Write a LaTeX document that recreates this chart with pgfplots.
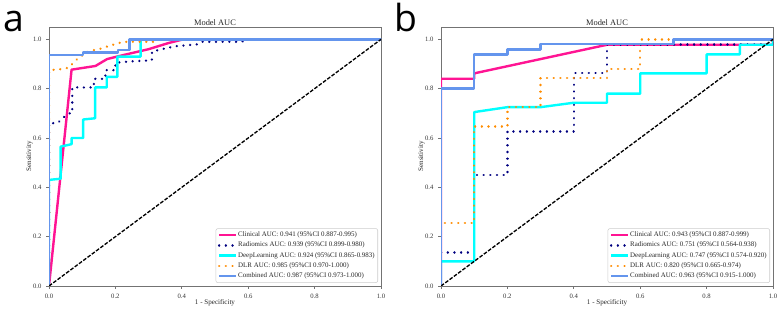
\documentclass[border=0pt]{standalone}
\usepackage{pgfplots}
\pgfplotsset{compat=1.18}
\usepackage{fontspec}
\setmainfont{Liberation Serif}
\newfontfamily\letterfont{Open Sans}
\definecolor{cPink}{HTML}{FF1493}
\definecolor{cNavy}{HTML}{000080}
\definecolor{cCyan}{HTML}{00FFFF}
\definecolor{cOrange}{HTML}{FF8C00}
\definecolor{cBlue}{HTML}{6495ED}
\pgfplotsset{
  legend image code/.code={\draw[#1] (0pt,0pt) -- (12.5pt,0pt);},
  rocaxis/.style={
    scale only axis, width=249pt, height=194.25pt,
    xmin=0, xmax=1, ymin=0, ymax=1.05,
    xtick={0,0.2,0.4,0.6,0.8,1}, ytick={0,0.2,0.4,0.6,0.8,1},
    xtick pos=lower, ytick pos=left,
    tick align=outside, major tick length=2.2pt,
    axis line style={black!55, line width=0.5pt},
    tick style={black!55, line width=0.5pt},
    ticklabel style={font=\fontsize{5}{6}\selectfont, text=black!80},
    /pgf/number format/fixed, /pgf/number format/fixed zerofill,
    /pgf/number format/precision=1, /pgf/number format/assume math mode=true,
    legend cell align=left,
    legend style={at={(axis description cs:0.991,0.012)}, anchor=south east,
      draw=black!20, rounded corners=1.5pt, fill=white,
      font=\fontsize{5.2}{6}\selectfont, text=black!85,
      inner sep=1.5pt, row sep=1pt, nodes={inner sep=0.8pt}},
  },
  solidroc/.style={line width=1.8pt, line join=round},
  dotroc/.style={line width=1.9pt, line cap=round, dash pattern=on 0.01pt off 5pt},
  diag/.style={black, line width=1pt, dash pattern=on 2.8pt off 1.2pt, forget plot},
}
\tikzset{
  lbl/.style={font=\fontsize{5.3}{6}\selectfont, text=black!85, inner sep=0pt},
  ttl/.style={font=\fontsize{6.3}{7}\selectfont, text=black!85, inner sep=0pt},
}
\begin{document}
\begin{tikzpicture}
\useasboundingbox (0,0) rectangle (585pt,231.75pt);
\node[anchor=base west, font=\letterfont\fontsize{28}{30}\selectfont, inner sep=0pt] at (2.25pt,207.75pt) {a};
\node[anchor=base west, font=\letterfont\fontsize{28}{30}\selectfont, inner sep=0pt] at (296pt,207.75pt) {b};

\node[ttl] at (161.25pt,214.9pt) {Model AUC};
\node[ttl] at (455.25pt,214.9pt) {Model AUC};
\node[lbl] at (161.25pt,4.6pt) {1 - Specificity};
\node[lbl] at (455.25pt,4.6pt) {1 - Specificity};
\node[lbl, rotate=90] at (22.1pt,114.4pt) {Sensitivity};
\node[lbl, rotate=90] at (316.1pt,114.4pt) {Sensitivity};

\begin{axis}[rocaxis, at={(36.75pt,17.25pt)}, anchor=south west]
\addplot[cPink, solidroc] coordinates {(0,0)(0.068,0.877)(0.14,0.892)(0.175,0.92)(0.22,0.935)(0.3,0.96)(0.36,0.985)(0.405,1.0)(1,1)};
\addlegendentry{Clinical AUC: 0.941 (95\%CI 0.887-0.995)}
\addplot[cNavy, dotroc] coordinates {(0,0)(0,0.66)(0.025,0.66)(0.045,0.685)(0.062,0.70)(0.07,0.70)(0.07,0.805)(0.135,0.805)(0.135,0.84)(0.17,0.84)(0.17,0.875)(0.2,0.875)(0.2,0.905)(0.24,0.91)(0.31,0.915)(0.31,0.95)(0.34,0.96)(0.38,0.972)(0.45,0.98)(0.46,0.99)(0.58,0.99)(0.6,1.0)(1,1)};
\addlegendentry{Radiomics AUC: 0.939 (95\%CI 0.899-0.980)}
\addplot[cCyan, solidroc] coordinates {(0,0)(0,0.43)(0.035,0.435)(0.035,0.565)(0.068,0.575)(0.068,0.60)(0.103,0.60)(0.103,0.675)(0.139,0.68)(0.139,0.805)(0.174,0.805)(0.174,0.848)(0.206,0.848)(0.206,0.93)(0.276,0.93)(0.276,1.0)(1,1)};
\addlegendentry{DeepLearning AUC: 0.924 (95\%CI 0.865-0.983)}
\addplot[cOrange, dotroc] coordinates {(0,0)(0,0.875)(0.03,0.878)(0.06,0.885)(0.07,0.9)(0.085,0.92)(0.1,0.935)(0.12,0.952)(0.15,0.96)(0.18,0.973)(0.21,0.985)(0.23,0.99)(0.32,0.99)(0.33,1.0)(1,1)};
\addlegendentry{DLR AUC: 0.985 (95\%CI 0.970-1.000)}
\addplot[cBlue, solidroc] coordinates {(0,0)(0,0.936)(0.102,0.936)(0.102,0.946)(0.207,0.946)(0.207,0.956)(0.242,0.956)(0.242,1.0)(1,1)};
\addlegendentry{Combined AUC: 0.987 (95\%CI 0.973-1.000)}
\addplot[diag] coordinates {(0,0)(1,1)};
\end{axis}

\begin{axis}[rocaxis, at={(330.75pt,17.25pt)}, anchor=south west]
\addplot[cPink, solidroc] coordinates {(0,0)(0,0.84)(0.1,0.84)(0.1,0.862)(0.5,0.978)(1,0.978)(1,1)};
\addlegendentry{Clinical AUC: 0.943 (95\%CI 0.887-0.999)}
\addplot[cNavy, dotroc] coordinates {(0,0)(0,0.135)(0.1,0.135)(0.1,0.45)(0.2,0.45)(0.2,0.627)(0.4,0.627)(0.4,0.863)(0.5,0.863)(0.5,0.978)(1,0.978)(1,1)};
\addlegendentry{Radiomics AUC: 0.751 (95\%CI 0.564-0.938)}
\addplot[cCyan, solidroc] coordinates {(0,0)(0,0.1)(0.1,0.1)(0.1,0.705)(0.2,0.725)(0.3,0.725)(0.4,0.743)(0.5,0.743)(0.5,0.78)(0.6,0.78)(0.6,0.862)(0.8,0.862)(0.8,0.939)(0.9,0.939)(0.9,0.978)(1,0.978)(1,1)};
\addlegendentry{DeepLearning AUC: 0.747 (95\%CI 0.574-0.920)}
\addplot[cOrange, dotroc] coordinates {(0,0)(0,0.255)(0.1,0.255)(0.1,0.647)(0.2,0.647)(0.2,0.725)(0.3,0.725)(0.3,0.843)(0.5,0.843)(0.5,0.88)(0.6,0.88)(0.6,1.0)(1,1)};
\addlegendentry{DLR AUC: 0.820 (95\%CI 0.665-0.974)}
\addplot[cBlue, solidroc] coordinates {(0,0)(0,0.80)(0.1,0.80)(0.1,0.939)(0.2,0.939)(0.2,0.959)(0.3,0.959)(0.3,0.98)(0.7,0.98)(0.7,1.0)(1,1)};
\addlegendentry{Combined AUC: 0.963 (95\%CI 0.915-1.000)}
\addplot[diag] coordinates {(0,0)(1,1)};
\end{axis}
\end{tikzpicture}
\end{document}
